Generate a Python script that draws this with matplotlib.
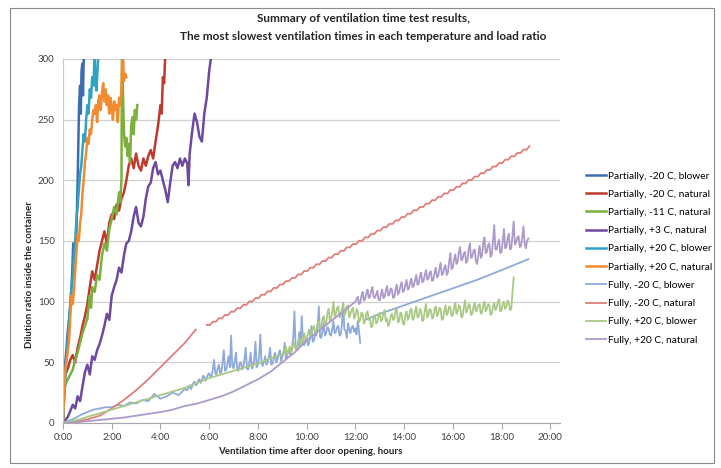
import numpy as np
import matplotlib.pyplot as plt
from matplotlib.patches import Rectangle
from matplotlib.ticker import MultipleLocator, FuncFormatter

plt.rcParams['font.family'] = ['Lato', 'DejaVu Sans']

# ---- data (time in hours, dilution ratio) ----
labels = ["Partially, -20 C, blower", "Partially, -20 C, natural", "Partially, -11 C, natural",
          "Partially, +3 C, natural", "Partially, +20 C, blower", "Partially, +20 C, natural",
          "Fully, -20 C, blower", "Fully, -20 C, natural", "Fully, +20 C, blower",
          "Fully, +20 C, natural"]
colors = ['#3d6cb3', '#c0392f', '#7caf3c', '#6b4aa0', '#2ea3c2', '#f28a2e',
          '#8eaadb', '#e07f7a', '#aac985', '#ac9acb']

p_m20_blower_t = [0, 0.03, 0.06, 0.1, 0.14, 0.18, 0.22, 0.26, 0.3, 0.34, 0.38, 0.42, 0.45,
                  0.48, 0.52, 0.56, 0.6, 0.63, 0.66, 0.7, 0.73, 0.76, 0.79, 0.82, 0.85, 0.88]
p_m20_blower_v = [0, 25, 40, 52, 60, 72, 80, 88, 96, 110, 125, 148, 132,
                  146, 140, 165, 198, 230, 262, 278, 255, 290, 296, 270, 300, 315]

p_m20_natural_t = [0, 0.05, 0.1, 0.2, 0.3, 0.4, 0.5, 0.6, 0.7, 0.8, 0.9, 1.0, 1.1, 1.2, 1.3,
                   1.4, 1.5, 1.6, 1.7, 1.8, 1.9, 2.0, 2.1, 2.2, 2.3, 2.4, 2.5, 2.6, 2.7, 2.8,
                   2.9, 3.0, 3.1, 3.2, 3.3, 3.4, 3.5, 3.6, 3.7, 3.8, 3.9, 4.0, 4.05, 4.1, 4.15, 4.2]
p_m20_natural_v = [0, 28, 40, 45, 52, 56, 50, 62, 70, 80, 88, 98, 112, 125, 118,
                   130, 142, 150, 158, 148, 165, 172, 168, 180, 175, 185, 190, 200, 212, 218,
                   210, 222, 212, 208, 218, 212, 220, 225, 218, 232, 245, 262, 255, 285, 280, 305]

p_m11_natural_t = [0, 0.05, 0.1, 0.2, 0.3, 0.4, 0.5, 0.6, 0.7, 0.8, 0.9, 1.0, 1.1, 1.15, 1.2,
                   1.3, 1.4, 1.5, 1.6, 1.7, 1.8, 1.9, 2.0, 2.1, 2.2, 2.3, 2.35, 2.4, 2.42, 2.5,
                   2.55, 2.6, 2.65, 2.7, 2.75, 2.8, 2.85, 2.9, 2.95, 3.0, 3.05]
p_m11_natural_v = [0, 25, 32, 36, 40, 44, 52, 58, 66, 74, 80, 86, 105, 95, 112,
                   108, 122, 118, 138, 148, 142, 160, 168, 178, 172, 190, 182, 200, 310, 240,
                   228, 235, 220, 230, 215, 245, 252, 238, 258, 250, 262]

p_p3_natural_t = [0, 0.2, 0.3, 0.4, 0.5, 0.6, 0.7, 0.8, 0.9, 1.0, 1.1, 1.2, 1.3, 1.4, 1.5,
                  1.6, 1.7, 1.8, 1.9, 2.0, 2.1, 2.2, 2.3, 2.4, 2.5, 2.6, 2.7, 2.8, 2.9, 3.0,
                  3.1, 3.2, 3.3, 3.4, 3.5, 3.6, 3.7, 3.8, 3.9, 4.0, 4.1, 4.2, 4.3, 4.4, 4.5,
                  4.6, 4.7, 4.8, 4.9, 5.0, 5.1, 5.15, 5.2, 5.3, 5.4, 5.5, 5.6, 5.7, 5.8, 5.9,
                  6.0, 6.1]
p_p3_natural_v = [0, 5, 10, 15, 12, 22, 18, 30, 42, 48, 40, 55, 52, 60, 65,
                  72, 80, 90, 85, 105, 112, 118, 128, 124, 138, 148, 150, 158, 170, 178,
                  165, 162, 170, 185, 195, 198, 210, 215, 205, 208, 200, 192, 182, 198, 212,
                  215, 210, 218, 212, 218, 214, 196, 222, 240, 255, 248, 236, 232, 255, 268,
                  290, 305]

p_p20_blower_t = [0, 0.05, 0.1, 0.15, 0.2, 0.25, 0.3, 0.35, 0.4, 0.45, 0.5, 0.55, 0.6, 0.65,
                  0.7, 0.75, 0.8, 0.85, 0.9, 0.95, 1.0, 1.05, 1.1, 1.15, 1.2, 1.25, 1.3, 1.33,
                  1.37, 1.42, 1.47]
p_p20_blower_v = [0, 22, 38, 55, 68, 85, 98, 112, 120, 138, 150, 168, 178, 192,
                  205, 212, 226, 238, 232, 250, 262, 255, 275, 268, 285, 278, 305, 282,
                  274, 292, 312]

# sampled every 3 minutes from 0:00
p_p20_natural_v = [0, 28, 45, 52, 60, 68, 88, 105, 98, 110,
                   125, 140, 155, 150, 165, 172, 190, 200, 215, 222,
                   235, 230, 242, 238, 250, 258, 255, 262, 248, 266,
                   270, 258, 272, 280, 265, 275, 262, 270, 255, 268,
                   260, 250, 265, 258, 262, 248, 268, 262, 275, 310,
                   282, 288, 285]

f_m20_blower_t_early = [0, 0.25, 0.5, 0.75, 1.0, 1.25, 1.5, 1.75, 2.0, 2.25, 2.5,
                        2.75, 3.0, 3.25, 3.5, 3.75, 4.0, 4.25, 4.5, 4.75, 5.0]
f_m20_blower_v_early = [0, 2, 4, 7, 9, 11, 12, 13, 13, 15, 14,
                        17, 16, 19, 18, 24, 20, 22, 25, 23, 28]
# every 3 minutes from 5:06
f_m20_blower_v_late = [27, 29, 31, 28, 30, 33, 34, 31, 32, 35,
                       36, 33, 35, 39, 38, 35, 37, 40, 41, 38,
                       39, 44, 52, 41, 40, 45, 48, 41, 42, 50,
                       60, 43, 44, 49, 55, 46, 72, 47, 45, 51,
                       58, 44, 43, 49, 50, 44, 46, 53, 62, 45,
                       44, 50, 58, 45, 47, 52, 67, 46, 48, 55,
                       73, 49, 47, 51, 55, 48, 50, 54, 62, 48,
                       49, 53, 58, 50, 52, 57, 60, 51, 54, 58,
                       66, 53, 55, 60, 58, 56, 62, 70, 92, 62,
                       60, 64, 75, 63, 88, 66, 64, 68, 70, 64,
                       66, 71, 80, 67, 68, 74, 72, 78, 96, 71,
                       70, 76, 82, 72, 74, 79, 78, 73, 72, 77,
                       84, 74, 75, 79, 80, 72, 73, 81, 99, 77,
                       76, 70, 82, 77, 74, 79, 80, 75, 78, 73,
                       84, 76, 66]
f_m20_blower_t_tail = [12.4, 13, 14, 15, 16, 17, 18, 19.1]
f_m20_blower_v_tail = [85, 90, 97, 104, 111, 118, 126, 135]

f_m20_natural_t = [0, 0.5, 1, 1.5, 2, 2.5, 3, 3.5, 4, 4.5, 5, 5.45]
f_m20_natural_v = [0, 1, 3, 6, 12, 19, 27, 36, 46, 56, 66, 77]
# every 7.5 minutes from 5:54
f_m20_natural_v_late = [80.8, 80.6, 83.6, 83.4, 86.4, 86.2, 89.1, 88.9, 91.9, 91.7,
                        94.7, 94.5, 97.5, 97.3, 100.3, 100.1, 103.0, 102.8, 105.8, 105.6,
                        108.6, 108.4, 111.4, 111.2, 114.2, 114.0, 117.0, 116.8, 119.7, 119.5,
                        122.5, 122.3, 125.3, 125.1, 128.1, 127.9, 130.9, 130.7, 133.6, 133.4,
                        136.4, 136.2, 139.2, 139.0, 142.0, 141.8, 144.8, 144.6, 147.6, 147.3,
                        150.3, 150.1, 153.1, 152.9, 155.9, 155.7, 158.7, 158.5, 161.5, 161.3,
                        164.2, 164.0, 167.0, 166.8, 169.8, 169.6, 172.6, 172.4, 175.4, 175.2,
                        178.1, 177.9, 180.9, 180.7, 183.7, 183.5, 186.5, 186.3, 189.3, 189.1,
                        192.0, 191.8, 194.8, 194.6, 197.6, 197.4, 200.4, 200.2, 203.2, 203.0,
                        206.0, 205.7, 208.7, 208.5, 211.5, 211.3, 214.3, 214.1, 217.1, 216.9,
                        219.9, 219.7, 222.6, 222.4, 225.4, 225.2, 228.2]

# every 30 minutes from 0:00
f_p20_blower_v_early = [0, 2, 5, 8, 11, 14, 17, 20, 23, 26, 29, 33, 37, 40, 43, 46, 49, 53, 57]
# every 3 minutes from 9:06
f_p20_blower_v_late = [60, 63, 56, 59, 63, 58, 60, 65, 66, 61, 62, 67, 70, 64, 66, 71, 74, 68, 70, 73,
                       77, 71, 72, 78, 80, 74, 76, 82, 84, 77, 79, 86, 88, 80, 82, 90, 94, 84, 86, 91,
                       100, 88, 90, 95, 96, 87, 88, 94, 98, 89, 91, 96, 97, 87, 90, 93, 95, 86, 88, 94,
                       92, 83, 85, 91, 90, 82, 84, 90, 92, 85, 86, 79, 80, 88, 89, 82, 83, 88, 91, 84,
                       85, 90, 93, 84, 86, 80, 82, 88, 90, 85, 86, 93, 95, 83, 84, 91, 90, 82, 81, 89,
                       92, 85, 87, 93, 94, 85, 86, 92, 96, 87, 88, 94, 92, 84, 85, 93, 98, 87, 89, 94,
                       93, 86, 87, 94, 96, 88, 90, 95, 94, 85, 86, 92, 97, 89, 91, 96, 95, 88, 89, 95,
                       99, 90, 92, 97, 96, 87, 88, 95, 101, 91, 93, 98, 97, 89, 90, 96, 99, 92, 94, 97,
                       98, 90, 91, 97, 100, 92, 94, 98, 97, 89, 90, 96, 99, 93, 95, 100, 102, 92, 93, 98,
                       100, 94, 96, 101, 99, 93, 94, 108, 120]

# every 30 minutes from 0:00
f_p20_natural_v_early = [0, 0.5, 1.5, 2.5, 3.5, 4.5, 6, 7.5, 9, 11, 14, 16, 19, 22, 26,
                         31, 36, 42, 50, 58, 68, 76, 84, 92, 100]
# every 3 minutes from 12:06
f_p20_natural_v_late = [104, 98, 99, 105, 108, 101, 102, 107, 110, 103, 104, 109, 112, 104, 103, 106, 109, 102, 101, 106,
                        110, 103, 104, 109, 113, 105, 106, 111, 110, 103, 104, 110, 114, 106, 108, 113, 116, 108, 109, 114,
                        118, 110, 111, 116, 119, 112, 113, 118, 122, 114, 115, 121, 124, 116, 117, 122, 126, 118, 119, 124,
                        125, 117, 118, 124, 128, 120, 121, 127, 132, 122, 123, 128, 130, 122, 124, 133, 140, 127, 128, 135,
                        139, 131, 133, 141, 145, 134, 135, 140, 141, 132, 134, 143, 148, 136, 137, 142, 143, 133, 131, 139,
                        146, 136, 138, 149, 153, 140, 141, 147, 148, 137, 139, 150, 163, 143, 143, 148, 151, 140, 141, 150,
                        160, 144, 145, 152, 156, 143, 144, 155, 166, 147, 149, 153, 154, 145, 146, 153, 162, 147, 144, 150,
                        152]


def steps(start, step, values):
    return start + step * np.arange(len(values))


nan = [np.nan]
series = [
    (p_m20_blower_t, p_m20_blower_v),
    (p_m20_natural_t, p_m20_natural_v),
    (p_m11_natural_t, p_m11_natural_v),
    (p_p3_natural_t, p_p3_natural_v),
    (p_p20_blower_t, p_p20_blower_v),
    (steps(0, 0.05, p_p20_natural_v), p_p20_natural_v),
    (np.concatenate([f_m20_blower_t_early, steps(5.1, 0.05, f_m20_blower_v_late), nan, f_m20_blower_t_tail]),
     np.concatenate([f_m20_blower_v_early, f_m20_blower_v_late, nan, f_m20_blower_v_tail])),
    (np.concatenate([f_m20_natural_t, nan, steps(5.9, 0.125, f_m20_natural_v_late)]),
     np.concatenate([f_m20_natural_v, nan, f_m20_natural_v_late])),
    (np.concatenate([steps(0, 0.5, f_p20_blower_v_early), steps(9.1, 0.05, f_p20_blower_v_late)]),
     np.concatenate([f_p20_blower_v_early, f_p20_blower_v_late])),
    (np.concatenate([steps(0, 0.5, f_p20_natural_v_early), steps(12.1, 0.05, f_p20_natural_v_late)]),
     np.concatenate([f_p20_natural_v_early, f_p20_natural_v_late])),
]

W, H = 721, 468
fig = plt.figure(figsize=(W / 100, H / 100), dpi=100)
ax = fig.add_axes([63 / W, 1 - 423 / H, (560 - 63) / W, (423 - 59) / H])

for i, (t, v) in enumerate(series):
    lw = 1.8 if i < 6 else 1.3
    ax.plot(t, v, color=colors[i], lw=lw, label=labels[i], solid_joinstyle='round')

ax.set_xlim(0, 20.4)
ax.set_ylim(0, 300)
ax.xaxis.set_major_locator(MultipleLocator(2))
ax.xaxis.set_major_formatter(FuncFormatter(lambda x, p: f"{int(round(x))}:00"))
ax.yaxis.set_major_locator(MultipleLocator(50))
ax.yaxis.grid(True, color='#d0d0d0', lw=0.9)
ax.set_axisbelow(True)
for s in ['top', 'right']:
    ax.spines[s].set_visible(False)
ax.spines['left'].set_color('#c8c8c8')
ax.spines['bottom'].set_color('#a8a8a8')
ax.tick_params(axis='x', length=4, color='#a8a8a8', labelsize=7, labelcolor='#404040', pad=3)
ax.tick_params(axis='y', length=0, labelsize=7, labelcolor='#404040', pad=6)

fig.text(30 / W, 1 - 275 / H, "Dilution ratio inside the container", rotation=90,
         ha='center', va='center', fontsize=7, fontweight='bold', color='#262626')
fig.text(310 / W, 1 - 452 / H, "Ventilation time after door opening, hours",
         ha='center', va='center', fontsize=7, fontweight='bold', color='#262626')
fig.text(363 / W, 1 - 18 / H, "Summary of ventilation time test results,",
         ha='center', va='center', fontsize=8.5, fontweight='bold', color='#262626')
fig.text(363 / W, 1 - 37 / H, "The most slowest ventilation times in each temperature and load ratio",
         ha='center', va='center', fontsize=8.5, fontweight='bold', color='#262626')

ax.legend(loc='center left', bbox_to_anchor=(586 / W, 1 - 258 / H), bbox_transform=fig.transFigure,
          frameon=False, fontsize=7.3, handlelength=2.0, handletextpad=0.2, labelspacing=0.9,
          borderaxespad=0, borderpad=0)

fig.patches.append(Rectangle((10 / W, 1 - 463 / H), (714 - 10) / W, (463 - 8) / H,
                             transform=fig.transFigure, fill=False, edgecolor='#8a8a8a', lw=0.8))

fig.savefig("out.png", dpi=100)
